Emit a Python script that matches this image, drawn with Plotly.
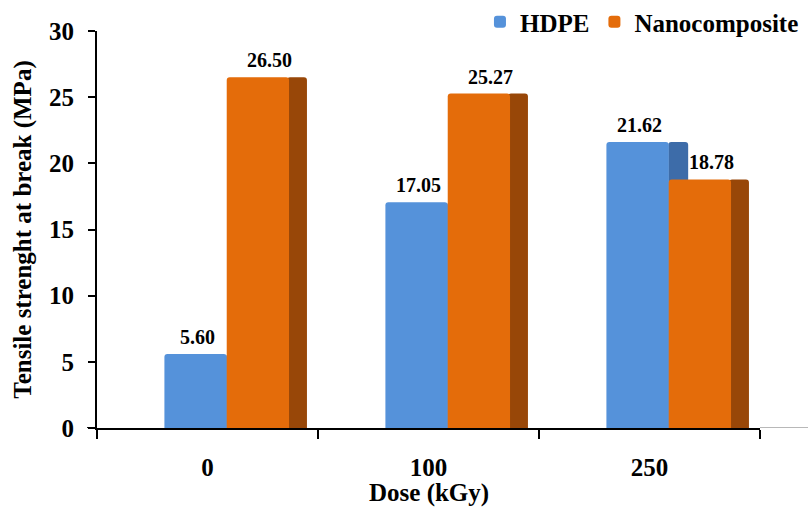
import plotly.graph_objects as go

categories = ["0", "100", "250"]
hdpe = [5.60, 17.05, 21.62]
nano = [26.50, 25.27, 18.78]
y_ticks = [0, 5, 10, 15, 20, 25, 30]

xpos = list(range(len(categories)))
FONT = "Times New Roman, Liberation Serif, DejaVu Serif, serif"
FS = 25

BLUE = "#5592DA"
BLUE_SIDE = "#3D6CA9"
ORANGE = "#E46C0A"
ORANGE_SIDE = "#984708"

fig = go.Figure()
fig.add_trace(go.Bar(x=xpos, y=hdpe, offset=0.085, width=0.09, marker=dict(color=BLUE_SIDE, line=dict(width=0), cornerradius=3),
                     showlegend=False, hoverinfo="skip"))
fig.add_trace(go.Bar(x=xpos, y=hdpe, offset=-0.195, width=0.282, name="<b>HDPE</b>",
                     marker=dict(color=BLUE, line=dict(width=0), cornerradius=3)))
fig.add_trace(go.Bar(x=xpos, y=nano, offset=0.36, width=0.09, marker=dict(color=ORANGE_SIDE, line=dict(width=0), cornerradius=3),
                     showlegend=False, hoverinfo="skip"))
fig.add_trace(go.Bar(x=xpos, y=nano, offset=0.087, width=0.282, name="<b>Nanocomposite</b>",
                     marker=dict(color=ORANGE, line=dict(width=0), cornerradius=3)))

# value labels
for p, v in zip(xpos, hdpe):
    fig.add_annotation(x=p - 0.045, y=v, text=f"<b>{v:.2f}</b>", showarrow=False,
                       yanchor="bottom", yshift=4, font=dict(family=FONT, size=20, color="black"))
for p, v in zip(xpos, nano):
    fig.add_annotation(x=p + 0.28, y=v, text=f"<b>{v:.2f}</b>", showarrow=False,
                       yanchor="bottom", yshift=4, font=dict(family=FONT, size=20, color="black"))

# x-axis title
fig.add_annotation(xref="paper", yref="paper", x=0.5, y=-(510 - 428 - 1) / 397, yanchor="bottom",
                   text="<b>Dose (kGy)</b>", showarrow=False, font=dict(family=FONT, size=FS, color="black"))

fig.update_layout(
    width=808, height=510,
    margin=dict(l=97, r=48, t=31, b=82, autoexpand=False),
    paper_bgcolor="white", plot_bgcolor="white",
    barmode="overlay",
    font=dict(family=FONT, size=FS, color="black"),
    legend=dict(orientation="h", x=0.995, xanchor="right", xref="container",
                y=1 - 22 / 510, yanchor="middle", yref="container",
                font=dict(family=FONT, size=FS, color="black"),
                traceorder="normal", bgcolor="rgba(0,0,0,0)", itemwidth=30),
    xaxis=dict(range=[-0.5, 2.5], tickvals=xpos, ticktext=[f"<b>{c}</b>" for c in categories], ticks="",
               showline=True, linecolor="black", linewidth=2, showgrid=False, zeroline=False,
               tickfont=dict(family=FONT, size=FS), ticklabelstandoff=16,
               minor=dict(tick0=-0.5, dtick=1, ticks="outside", ticklen=9, tickwidth=2, tickcolor="black")),
    yaxis=dict(range=[0, 30], tickvals=y_ticks, ticktext=[f"<b>{t}</b>" for t in y_ticks],
               ticks="outside", ticklen=7, tickwidth=2, tickcolor="black",
               showline=True, linecolor="black", linewidth=2, showgrid=False, zeroline=False,
               tickfont=dict(family=FONT, size=FS), ticklabelstandoff=9,
               title=dict(text="<b>Tensile strenght at break (MPa)</b>", font=dict(family=FONT, size=FS),
                          standoff=10)),
)

fig.add_shape(type="line", xref="paper", yref="y", x0=1.0, x1=1.08, y0=0, y1=0,
              line=dict(color="#A0A0A0", width=1.5))
fig.add_shape(type="line", xref="paper", yref="y", x0=-0.015, x1=0.0, y0=0, y1=0,
              line=dict(color="black", width=2))

fig.write_html("out.html")
